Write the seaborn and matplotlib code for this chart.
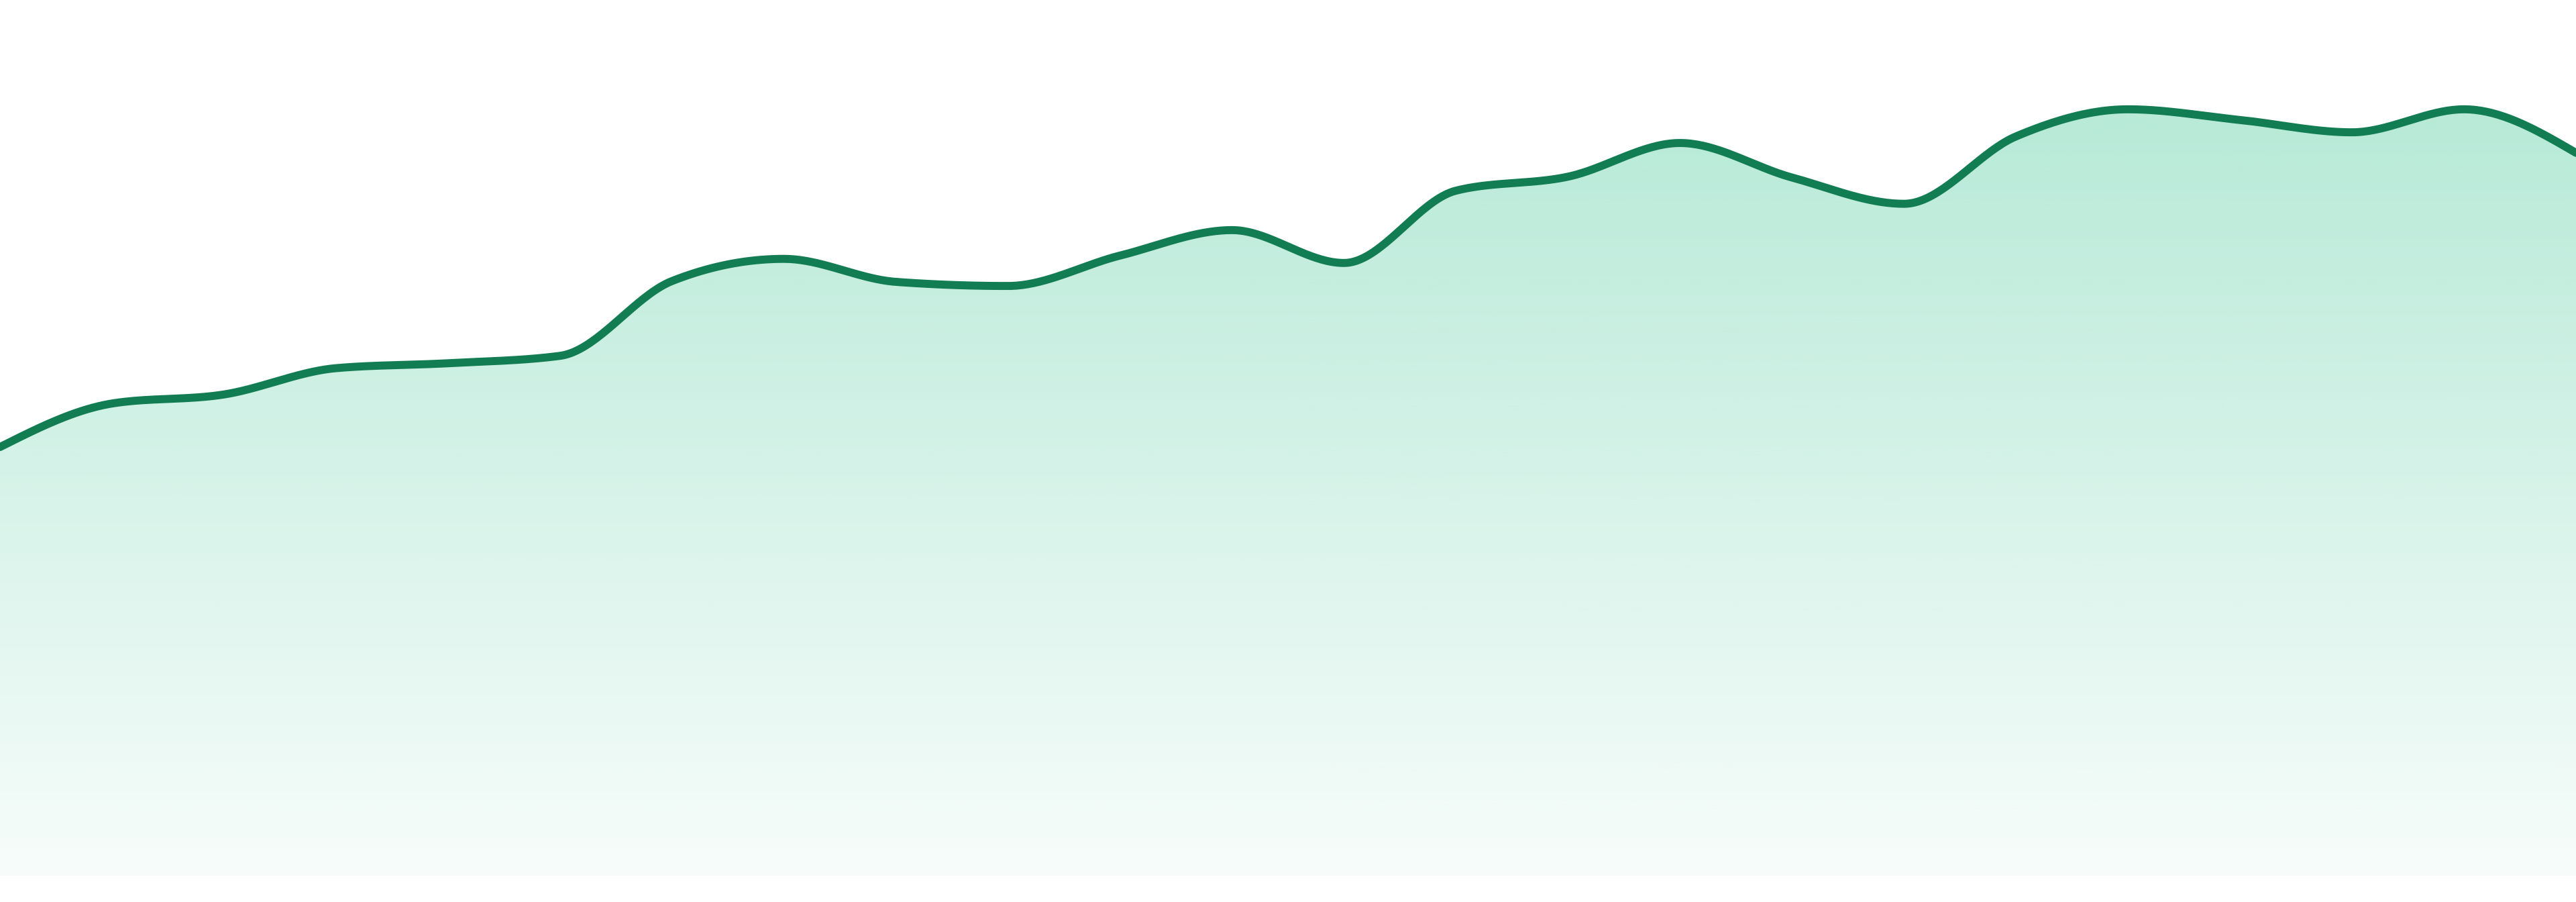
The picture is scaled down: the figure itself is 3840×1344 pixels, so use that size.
import numpy as np
import pandas as pd
import seaborn as sns
import matplotlib.pyplot as plt
from matplotlib.colors import to_rgb

sns.set_theme(style="white")

# data points (evenly spaced)
period = list(range(24))
value = [261, 287.5, 293, 309, 312, 316.5, 362, 375.5, 361.5, 359, 377.5, 393,
         373, 417, 425.5, 446, 425, 409, 450, 466.5, 460, 452.5, 466.5, 440]

line_color = "#127c52"
fill_color = "#34c38f"


def monotone_curve(x, y, n=40):
    # monotone cubic (same slopes as d3.curveMonotoneX) for drawing the smooth line
    x = np.asarray(x, float)
    y = np.asarray(y, float)
    h = np.diff(x)
    s = np.diff(y) / h
    t = np.zeros_like(y)
    for i in range(1, len(y) - 1):
        p = (s[i - 1] * h[i] + s[i] * h[i - 1]) / (h[i - 1] + h[i])
        t[i] = (np.sign(s[i - 1]) + np.sign(s[i])) * min(abs(s[i - 1]), abs(s[i]), 0.5 * abs(p))
    t[0] = (3 * s[0] - t[1]) / 2
    t[-1] = (3 * s[-1] - t[-2]) / 2
    xs, ys = [], []
    for i in range(len(x) - 1):
        u = np.linspace(0, 1, n, endpoint=(i == len(x) - 2))
        h00 = 2 * u**3 - 3 * u**2 + 1
        h10 = u**3 - 2 * u**2 + u
        h01 = -2 * u**3 + 3 * u**2
        h11 = u**3 - u**2
        xs.append(x[i] + u * h[i])
        ys.append(h00 * y[i] + h10 * h[i] * t[i] + h01 * y[i + 1] + h11 * h[i] * t[i + 1])
    return np.concatenate(xs), np.concatenate(ys)


sx, sy = monotone_curve(period, value)
df = pd.DataFrame({"period": sx, "value": sy})

fig = plt.figure(figsize=(38.4, 13.44), dpi=100)
ax = fig.add_axes([0, 0, 1, 1])
ax.set_xlim(0, 23)
ax.set_ylim(-15.8, 533)

# gradient fill under the curve
poly = ax.fill_between(df["period"], df["value"], 0, color="none", lw=0)
r, g, b = to_rgb(fill_color)
alpha = np.linspace(0.40, 0.04, 512)
grad = np.zeros((512, 1, 4))
grad[:, 0, 0], grad[:, 0, 1], grad[:, 0, 2] = r, g, b
grad[:, 0, 3] = alpha
img = ax.imshow(grad, extent=[0, 23, 0, 533], origin="upper", aspect="auto", zorder=1)
img.set_clip_path(poly.get_paths()[0], transform=ax.transData)

sns.lineplot(data=df, x="period", y="value", estimator=None, sort=False,
             color=line_color, linewidth=8.6, ax=ax, zorder=3)

ax.set_xlim(0, 23)
ax.set_ylim(-15.8, 533)
ax.axis("off")

fig.savefig("out.png", dpi=100, facecolor="white")
